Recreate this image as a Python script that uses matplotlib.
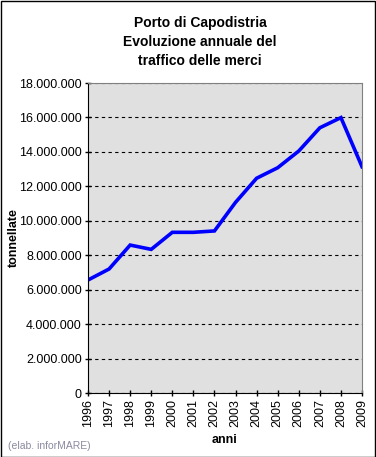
import matplotlib
matplotlib.use('agg')
import matplotlib.pyplot as plt
from matplotlib.ticker import FuncFormatter

years = [1996, 1997, 1998, 1999, 2000, 2001, 2002, 2003, 2004, 2005, 2006,
         2007, 2008, 2009]
tonnes = [6.56e6, 7.2e6, 8.59e6, 8.34e6, 9.33e6, 9.33e6, 9.41e6, 11.07e6,
          12.47e6, 13.08e6, 14.05e6, 15.40e6, 15.99e6, 13.14e6]
title = 'Porto di Capodistria\nEvoluzione annuale del\ntraffico delle merci'

plt.rcParams['font.family'] = ['Liberation Sans', 'DejaVu Sans']

W, H = 376, 457
fig = plt.figure(figsize=(W / 100, H / 100), dpi=100)
ax = fig.add_axes([88 / W, 1 - 393 / H, (362 - 88) / W, (393 - 83) / H])
ax.set_facecolor('#e0e0e0')

ax.plot(years, tonnes, color='#0000ff', lw=2.6, solid_joinstyle='miter')

ax.set_xlim(1996, 2009)
ax.set_ylim(0, 18e6)
ax.set_yticks(range(0, 18000001, 2000000))
ax.set_xticks(years)
ax.set_xticklabels([str(y) for y in years], rotation=90, fontsize=9)
ax.yaxis.set_major_formatter(
    FuncFormatter(lambda v, p: '{:,}'.format(int(v)).replace(',', '.')))
ax.tick_params(axis='y', labelsize=9, length=5, width=1, direction='inout', pad=2)
ax.tick_params(axis='x', length=5, width=1, direction='inout', pad=2)
ax.yaxis.grid(True, color='black', ls=(0, (3, 3)), lw=0.8)

for s in ['top', 'right']:
    ax.spines[s].set_color('#808080')
for s in ['left', 'bottom']:
    ax.spines[s].set_color('black')

ax.set_ylabel('tonnellate', fontsize=9, fontweight='bold')
ax.yaxis.set_label_coords(-0.25, 0.5)
ax.set_xlabel('anni', fontsize=9, fontweight='bold', labelpad=5)

fig.text(200 / W, 1 - 16 / H, title, ha='center', va='top', fontsize=10,
         fontweight='bold', linespacing=1.45)
fig.text(8 / W, 1 - 446 / H, '(elab. inforMARE)', ha='left', va='center',
         fontsize=7.5, color='#8a8aa0')

fig.patches.append(plt.Rectangle((0.5 / W, 0.5 / H), 1 - 1.5 / W, 1 - 1.5 / H,
                                 transform=fig.transFigure, fill=False,
                                 edgecolor='black', lw=1))

fig.savefig('out.png', dpi=100)
